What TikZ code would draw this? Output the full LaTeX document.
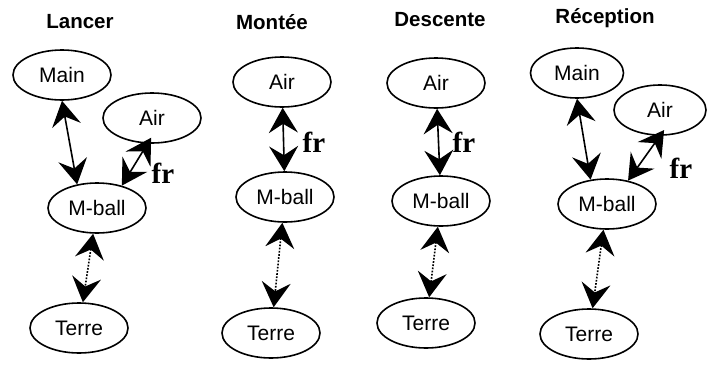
\documentclass[tikz,border=0pt]{standalone}
\usepackage{fontspec}
\setmainfont{Liberation Sans}
\newfontfamily\frfont{Liberation Serif}
\usetikzlibrary{arrows.meta,shapes.geometric}

\begin{document}
\begin{tikzpicture}[x=1pt, y=-1pt,
				blob/.style={ellipse, draw=black, line width=1.6pt, minimum width=98pt, minimum height=50pt, inner sep=0pt, font=\fontsize{21}{24}\selectfont},
				titre/.style={rectangle, inner sep=0pt, font=\fontsize{20.5}{24}\selectfont\bfseries},
				frlab/.style={rectangle, inner sep=0pt, font=\fontsize{29}{31}\selectfont\frfont\bfseries},
				link/.style={line width=1.6pt, {Stealth[length=25pt, width=29pt, inset=9pt]}-{Stealth[length=25pt, width=29pt, inset=9pt]}},
				ground/.style={link, dash pattern=on 1.7pt off 1.5pt}
			]
			\useasboundingbox (0,0) rectangle (707,367);
			% Lancer
			\node[titre] (t1) at (80,22) {Lancer};
			\node[blob] (main1) at (62,75) {Main};
			\node[blob] (air1) at (152,118) {Air};
			\node[blob] (mball1) at (97,208) {M-ball};
			\node[blob] (terre1) at (79,328) {Terre};
			\node[frlab] (fr1) at (163,173) {fr};
			% Montée
			\node[titre] (t2) at (272,22) {Montée};
			\node[blob] (air2) at (282,82) {Air};
			\node[blob] (mball2) at (285,197) {M-ball};
			\node[blob] (terre2) at (271,333) {Terre};
			\node[frlab] (fr2) at (314,142) {fr};
			% Descente
			\node[titre] (t3) at (440,20) {Descente};
			\node[blob] (air3) at (436,83) {Air};
			\node[blob] (mball3) at (441,201) {M-ball};
			\node[blob] (terre3) at (426,323) {Terre};
			\node[frlab] (fr3) at (464,142) {fr};
			% Réception
			\node[titre] (t4) at (605,18) {Réception};
			\node[blob, minimum width=93pt] (main4) at (577,73) {Main};
			\node[blob, minimum width=92pt] (air4) at (660,110) {Air};
			\node[blob] (mball4) at (607,204) {M-ball};
			\node[blob] (terre4) at (589,334) {Terre};
			\node[frlab] (fr4) at (681,168) {fr};
			\begin{scope}
			\draw[link] (main1.south) -- (mball1.130);
			\draw[link, shorten <=-7pt] (air1.-100) -- (mball1.42);
			\draw[ground] (mball1) -- (terre1);
			\draw[link] (air2) -- (mball2);
			\draw[ground] (mball2) -- (terre2);
			\draw[link] (air3) -- (mball3);
			\draw[ground] (mball3) -- (terre3);
			\draw[link] (main4.south) -- (mball4.124);
			\draw[link, shorten <=-7pt] (air4.-90) -- (mball4.48);
			\draw[ground] (mball4) -- (terre4);
			\end{scope}
\end{tikzpicture}
\end{document}
